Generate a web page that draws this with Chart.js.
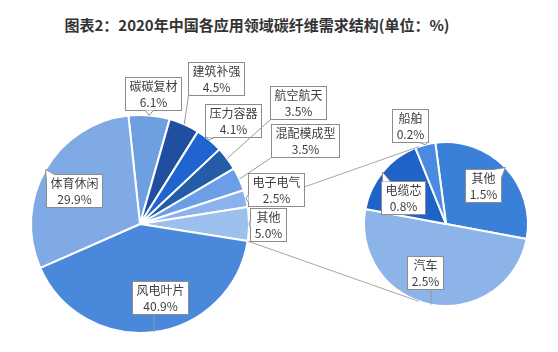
<!DOCTYPE html>
<html>
<head>
<meta charset="utf-8">
<script src="https://cdn.jsdelivr.net/npm/chart.js@4.4.1/dist/chart.umd.min.js"></script>
<style>
  html, body { margin: 0; padding: 0; background: #fff; }
  #wrap { position: relative; width: 558px; height: 352px; overflow: hidden; background: #fff; }
  #titulo { position: absolute; left: 0; top: 14px; width: 514px; text-align: center;
            font: bold 15px "Noto Sans CJK SC", sans-serif; color: #333; line-height: 22px; }
  canvas { position: absolute; left: 0; top: 0; }
</style>
</head>
<body>
<div id="wrap">
  <div id="titulo">图表2：2020年中国各应用领域碳纤维需求结构(单位：%)</div>
  <canvas id="pie-main" width="558" height="352"></canvas>
  <canvas id="pie-sub" width="558" height="352"></canvas>
</div>
<script>
// dados
const mainLabels = ["碳碳复材", "建筑补强", "压力容器", "航空航天", "混配模成型", "电子电气", "其他", "风电叶片", "体育休闲"];
const mainValues = [6.1, 4.5, 4.1, 3.5, 3.5, 2.5, 5.0, 40.9, 29.9];
const subLabels = ["其他", "汽车", "电缆芯", "船舶"];
const subValues = [1.5, 2.5, 0.8, 0.2];

// estilo
const mainColors = ["#6e9fe0", "#1f4f9e", "#1f64d0", "#245ca8", "#6a9ee6", "#8ab2ec", "#9cc0ee", "#4a88dc", "#80aae6"];
const subColors = ["#3a80d8", "#8db4e8", "#1f62c8", "#4a8ae0"];

// posicao dos rotulos: distancia (x raio) e desvio do angulo medio (graus)
const mainLabelK = [1.204, 1.506, 1.273, 1.832, 1.70, 1.283, 1.174, 0.703, 0.675];
const mainLabelDa = [1.0, 3.6, 2.4, -0.6, -2.5, -0.8, 0.4, -7.7, -3.0];
const subLabelK = [0.651, 0.650, 0.618, 1.279];
const subLabelDa = [-2.6, 12.7, -8.4, -5.4];

// fatia "其他" do grafico principal centrada a direita (3 horas)
const idxOutro = mainLabels.indexOf("其他");
const totalMain = mainValues.reduce((a, b) => a + b, 0);
const antes = mainValues.slice(0, idxOutro).reduce((a, b) => a + b, 0);
const rotMain = 90 - (antes + mainValues[idxOutro] / 2) / totalMain * 360;

function clamp(v, a, b) { return Math.max(a, Math.min(b, v)); }

function desenhaRotulo(ctx, arc, nome, valor, k, da) {
  const mid = (arc.startAngle + arc.endAngle) / 2;
  const ang = mid + da * Math.PI / 180;
  const cx = arc.x + k * arc.outerRadius * Math.cos(ang);
  const cy = arc.y + k * arc.outerRadius * Math.sin(ang);
  const ax = arc.x + arc.outerRadius * Math.cos(mid);
  const ay = arc.y + arc.outerRadius * Math.sin(mid);

  ctx.save();
  ctx.font = '12px "Noto Sans CJK SC", sans-serif';
  const l2 = valor.toFixed(1) + "%";
  const w = Math.round(Math.max(ctx.measureText(nome).width, ctx.measureText(l2).width) + 8);
  const h = 33;
  const x0 = Math.round(cx - w / 2) + 0.5;
  const y0 = Math.round(cy - h / 2) + 0.5;

  ctx.fillStyle = "#fff";
  ctx.strokeStyle = "#8c8c8c";
  ctx.lineWidth = 1;
  ctx.fillRect(x0, y0, w, h);
  ctx.strokeRect(x0, y0, w, h);

  const qx = clamp(ax, x0, x0 + w);
  const qy = clamp(ay, y0, y0 + h);
  const dist = Math.hypot(ax - qx, ay - qy);
  if (dist > 14) {
    ctx.strokeStyle = "#999";
    ctx.beginPath();
    ctx.moveTo(qx, qy);
    ctx.lineTo(ax, ay);
    ctx.stroke();
  } else if (dist > 1) {
    const naBordaX = (qx === x0 || qx === x0 + w);
    const naBordaY = (qy === y0 || qy === y0 + h);
    let b1, b2;
    if (naBordaX && naBordaY) {
      const sx = qx === x0 ? 1 : -1, sy = qy === y0 ? 1 : -1;
      b1 = [qx + sx * 8, qy];
      b2 = [qx, qy + sy * 8];
    } else if (naBordaY) {
      const bx = clamp(qx, x0 + 5, x0 + w - 5);
      b1 = [bx - 4, qy]; b2 = [bx + 4, qy];
    } else {
      const by = clamp(qy, y0 + 5, y0 + h - 5);
      b1 = [qx, by - 4]; b2 = [qx, by + 4];
    }
    ctx.fillStyle = "#fff";
    ctx.beginPath();
    ctx.moveTo(b1[0], b1[1]);
    ctx.lineTo(ax, ay);
    ctx.lineTo(b2[0], b2[1]);
    ctx.closePath();
    ctx.fill();
    ctx.beginPath();
    ctx.moveTo(b1[0], b1[1]);
    ctx.lineTo(ax, ay);
    ctx.lineTo(b2[0], b2[1]);
    ctx.stroke();
  }

  ctx.fillStyle = "#404040";
  ctx.textAlign = "center";
  ctx.textBaseline = "middle";
  ctx.fillText(nome, x0 + w / 2, y0 + h / 2 - 7.5);
  ctx.fillText(l2, x0 + w / 2, y0 + h / 2 + 8.5);
  ctx.restore();
}

const opcoesBase = {
  responsive: false,
  animation: false,
  events: [],
  plugins: { legend: { display: false }, tooltip: { enabled: false } }
};

const graficoPrincipal = new Chart(document.getElementById("pie-main"), {
  type: "pie",
  data: {
    labels: mainLabels,
    datasets: [{
      data: mainValues,
      backgroundColor: mainColors,
      borderColor: "#fff",
      borderWidth: 2,
      hoverOffset: 0
    }]
  },
  options: Object.assign({}, opcoesBase, {
    rotation: rotMain,
    layout: { padding: { left: 30, right: 308, top: 114, bottom: 18 } }
  })
});

// linhas de ligacao e rotulos (desenhados por cima de tudo)
const anotacoes = {
  id: "anotacoes",
  afterDraw(chart) {
    const ctx = chart.ctx;
    const arcsA = graficoPrincipal.getDatasetMeta(0).data;
    const arcsB = chart.getDatasetMeta(0).data;
    const outro = arcsA[idxOutro];
    const c = arcsB[0];
    const r = c.outerRadius;

    ctx.save();
    ctx.strokeStyle = "#a6a6a6";
    ctx.lineWidth = 1;
    [outro.startAngle, outro.endAngle].forEach((a, i) => {
      const px = outro.x + outro.outerRadius * Math.cos(a);
      const py = outro.y + outro.outerRadius * Math.sin(a);
      const d = Math.hypot(c.x - px, c.y - py);
      const base = Math.atan2(c.y - py, c.x - px);
      const off = Math.asin(r / d);
      const dir = i === 0 ? base - off : base + off;
      const len = Math.sqrt(d * d - r * r);
      ctx.beginPath();
      ctx.moveTo(px, py);
      ctx.lineTo(px + len * Math.cos(dir), py + len * Math.sin(dir));
      ctx.stroke();
    });
    ctx.restore();

    arcsA.forEach((arc, i) => desenhaRotulo(ctx, arc, mainLabels[i], mainValues[i], mainLabelK[i], mainLabelDa[i]));
    arcsB.forEach((arc, i) => desenhaRotulo(ctx, arc, subLabels[i], subValues[i], subLabelK[i], subLabelDa[i]));
  }
};

new Chart(document.getElementById("pie-sub"), {
  type: "pie",
  data: {
    labels: subLabels,
    datasets: [{
      data: subValues,
      backgroundColor: subColors,
      borderColor: "#fff",
      borderWidth: 2,
      hoverOffset: 0
    }]
  },
  options: Object.assign({}, opcoesBase, {
    rotation: -7.5,
    layout: { padding: { left: 363, right: 29, top: 141, bottom: 45 } }
  }),
  plugins: [anotacoes]
});
</script>
</body>
</html>
